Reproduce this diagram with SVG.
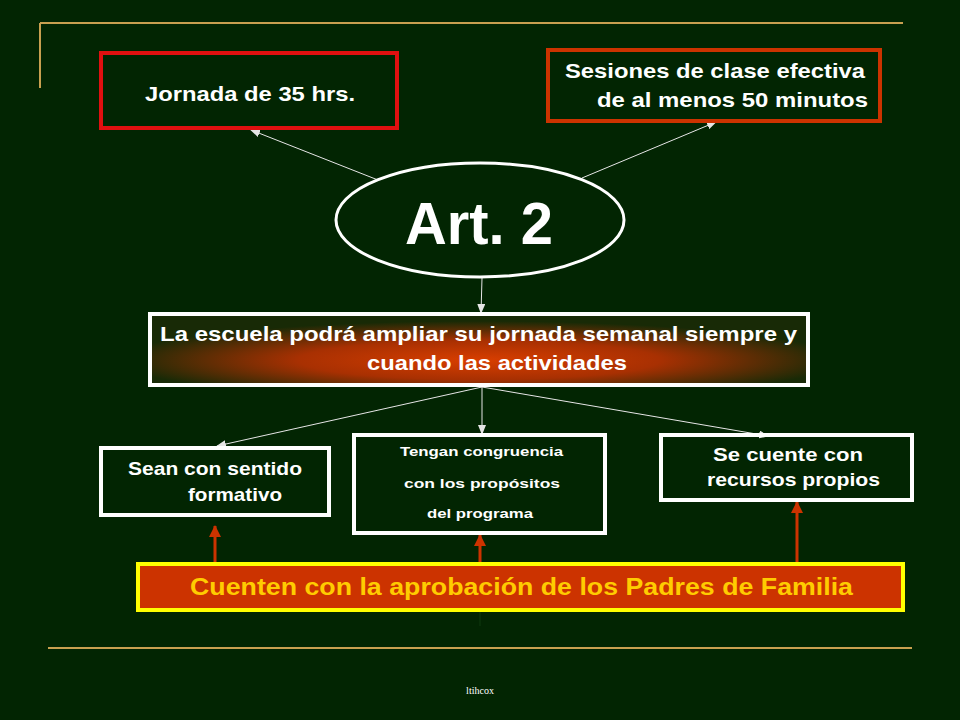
<svg xmlns="http://www.w3.org/2000/svg" width="960" height="720" viewBox="0 0 960 720">
<defs>
<style>
.t{font-family:"Liberation Sans",Arial,sans-serif;font-weight:bold;fill:#ffffff}
.box{fill:none;stroke-width:4}
.c{stroke:#e6e6e6;stroke-width:1;fill:none}
.r{stroke:#cc3300;stroke-width:3;fill:none}
</style>
<marker id="aw" markerWidth="10" markerHeight="8" refX="9" refY="4" orient="auto" markerUnits="userSpaceOnUse">
<path d="M0,0 L10,4 L0,8 Z" fill="#e6e6e6"/>
</marker>
<marker id="ar" markerWidth="12" markerHeight="12" refX="11" refY="6" orient="auto" markerUnits="userSpaceOnUse">
<path d="M0,0 L12,6 L0,12 Z" fill="#cc3300"/>
</marker>
<radialGradient id="g" cx="50%" cy="65%" r="55%">
<stop offset="0" stop-color="#d83e00"/>
<stop offset="0.5" stop-color="#a83002"/>
<stop offset="1" stop-color="#182a06"/>
</radialGradient>
</defs>
<rect width="960" height="720" fill="#022502"/>
<g id="frame">
<line x1="40" y1="23" x2="903" y2="23" stroke="#c8a050" stroke-width="2"/>
<line x1="40" y1="23" x2="40" y2="88" stroke="#c8a050" stroke-width="2"/>
<line x1="48" y1="648" x2="912" y2="648" stroke="#c8a050" stroke-width="2"/>
<text x="480" y="694" text-anchor="middle" font-family="Liberation Serif,serif" font-size="10" fill="#ffffff">ltihcox</text>
</g>
<g id="connectors">
<line class="c" x1="378" y1="180" x2="251" y2="130" marker-end="url(#aw)"/>
<line class="c" x1="582" y1="178" x2="716" y2="122" marker-end="url(#aw)"/>
<line class="c" x1="482" y1="278" x2="481" y2="313" marker-end="url(#aw)"/>
<line class="c" x1="482" y1="387" x2="217" y2="446" marker-end="url(#aw)"/>
<line class="c" x1="482" y1="387" x2="482" y2="434" marker-end="url(#aw)"/>
<line class="c" x1="482" y1="387" x2="768" y2="436" marker-end="url(#aw)"/>
<line class="r" x1="215" y1="563" x2="215" y2="526" marker-end="url(#ar)"/>
<line class="r" x1="480" y1="563" x2="480" y2="535" marker-end="url(#ar)"/>
<line class="r" x1="797" y1="563" x2="797" y2="502" marker-end="url(#ar)"/>
<line x1="480" y1="612" x2="480" y2="626" stroke="#0f3a0f" stroke-width="1"/>
</g>
<g id="jornada">
<rect class="box" x="101" y="53" width="296" height="75" stroke="#e01010"/>
<text class="t" x="250" y="101" font-size="21" text-anchor="middle" textLength="210" lengthAdjust="spacingAndGlyphs">Jornada de 35 hrs.</text>
</g>
<g id="sesiones">
<rect class="box" x="548" y="50" width="332" height="71" stroke="#cc3300"/>
<text class="t" x="565" y="78" font-size="21" textLength="300" lengthAdjust="spacingAndGlyphs">Sesiones de clase efectiva</text>
<text class="t" x="597" y="107" font-size="21" textLength="271" lengthAdjust="spacingAndGlyphs">de al menos 50 minutos</text>
</g>
<g id="art2">
<ellipse cx="480" cy="220" rx="144" ry="57" fill="#022502" stroke="#ffffff" stroke-width="3"/>
<text class="t" x="479" y="244" font-size="60" text-anchor="middle" textLength="148" lengthAdjust="spacingAndGlyphs">Art. 2</text>
</g>
<g id="escuela">
<rect x="150" y="314" width="658" height="71" fill="url(#g)" stroke="#ffffff" stroke-width="4"/>
<text class="t" x="160" y="341" font-size="21" textLength="637" lengthAdjust="spacingAndGlyphs">La escuela podrá ampliar su jornada semanal siempre y</text>
<text class="t" x="367" y="370" font-size="21" textLength="260" lengthAdjust="spacingAndGlyphs">cuando las actividades</text>
</g>
<g id="sentido">
<rect class="box" x="101" y="448" width="228" height="67" stroke="#ffffff"/>
<text class="t" x="128" y="475" font-size="19" textLength="174" lengthAdjust="spacingAndGlyphs">Sean con sentido</text>
<text class="t" x="188" y="501" font-size="19" textLength="94" lengthAdjust="spacingAndGlyphs">formativo</text>
</g>
<g id="congruencia">
<rect class="box" x="354" y="435" width="251" height="98" stroke="#ffffff"/>
<text class="t" x="400" y="456" font-size="13" textLength="163" lengthAdjust="spacingAndGlyphs">Tengan congruencia</text>
<text class="t" x="404" y="488" font-size="13" textLength="156" lengthAdjust="spacingAndGlyphs">con los propósitos</text>
<text class="t" x="427" y="518" font-size="13" textLength="106" lengthAdjust="spacingAndGlyphs">del programa</text>
</g>
<g id="recursos">
<rect class="box" x="661" y="435" width="251" height="65" stroke="#ffffff"/>
<text class="t" x="713" y="461" font-size="19" textLength="150" lengthAdjust="spacingAndGlyphs">Se cuente con</text>
<text class="t" x="707" y="486" font-size="19" textLength="173" lengthAdjust="spacingAndGlyphs">recursos propios</text>
</g>
<g id="padres">
<rect x="138" y="564" width="765" height="46" fill="#cc3300" stroke="#ffff00" stroke-width="4"/>
<text class="t" x="190" y="595" font-size="24" style="fill:#ffcc00" textLength="663" lengthAdjust="spacingAndGlyphs">Cuenten con la aprobación de los Padres de Familia</text>
</g>
</svg>
